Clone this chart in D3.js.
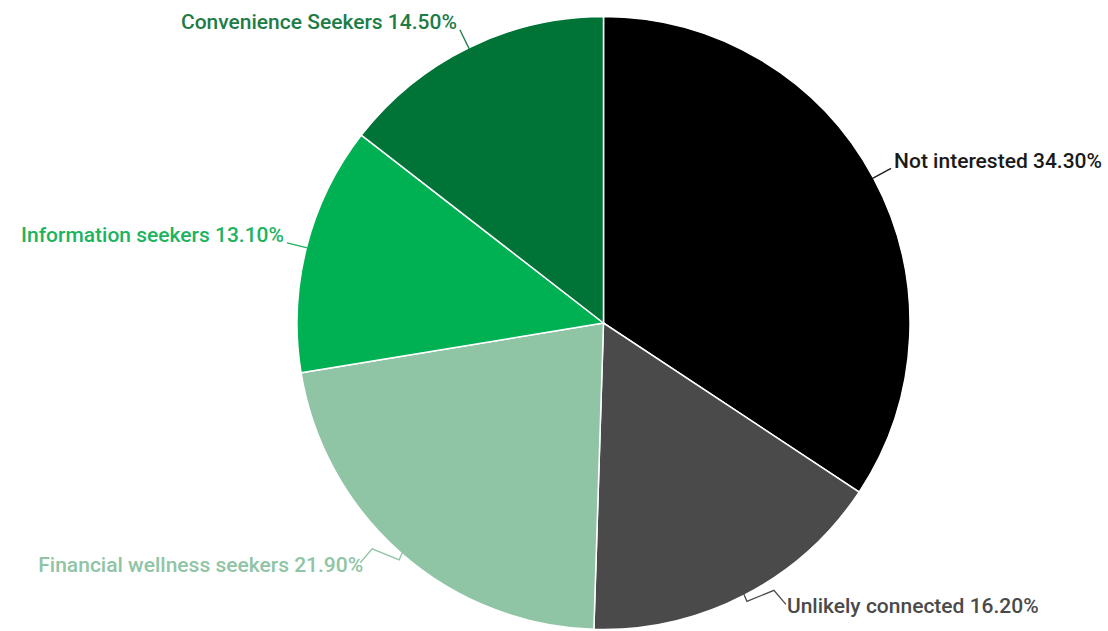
<!DOCTYPE html>
<html>
<head>
<meta charset="utf-8">
<script src="https://cdn.jsdelivr.net/npm/d3@7"></script>
<style>
  html, body { margin: 0; padding: 0; background: #fff; }
  svg { display: block; }
  text { font-family: Roboto, "Noto Sans", sans-serif; font-weight: 500; font-size: 21px; }
</style>
</head>
<body>
<svg id="chart" width="1108" height="631"></svg>
<script>
// Audience segments, clockwise from 12 o'clock
const segments = ["Not interested", "Unlikely connected", "Financial wellness seekers", "Information seekers", "Convenience Seekers"];
const shares = [34.3, 16.2, 21.9, 13.1, 14.5];
const sliceColors = ["#000000", "#4a4a4a", "#8fc4a5", "#00b154", "#007437"];
const labelColors = ["#1a1a1a", "#4a4a4a", "#8fc4a5", "#1db35f", "#1d7c47"];

const width = 1108, height = 631;
const cx = 603.5, cy = 323, radius = 306.5;

const svg = d3.select("#chart");
const g = svg.append("g").attr("transform", `translate(${cx},${cy})`);

const data = segments.map((name, i) => ({ name, value: shares[i], color: sliceColors[i], labelColor: labelColors[i] }));

const pie = d3.pie().value(d => d.value).sort(null);
const arcs = pie(data);
const arc = d3.arc().innerRadius(0).outerRadius(radius);

g.selectAll("path.slice")
  .data(arcs)
  .join("path")
  .attr("class", "slice")
  .attr("d", arc)
  .attr("fill", d => d.data.color)
  .attr("stroke", "#ffffff")
  .attr("stroke-width", 1.5);

// polar helper: angle measured clockwise from 12 o'clock
const polar = (r, a) => [r * Math.sin(a), -r * Math.cos(a)];

arcs.forEach(d => {
  const mid = (d.startAngle + d.endAngle) / 2;
  const right = Math.sin(mid) >= 0;
  const dir = right ? 1 : -1;
  const lower = -Math.cos(mid) > 0.6;
  const p0 = polar(radius - 1, mid);
  let pts, anchor;
  if (lower) {
    // zig-zag leader for the labels under the pie
    const p1 = [p0[0] + dir * 3, p0[1] + 7];
    const p2 = [p1[0] + dir * 27, p1[1] - 11];
    const p3 = [p2[0] + dir * 12, p2[1] + 14];
    pts = [p0, p1, p2, p3];
    anchor = [p3[0] + (right ? 1 : 3), p3[1] + 9];
  } else {
    const p1 = polar(radius + 20, mid);
    pts = [p0, p1];
    anchor = [p1[0] + dir * 3, p1[1] - 0.5];
  }
  g.append("path")
    .attr("d", d3.line()(pts))
    .attr("fill", "none")
    .attr("stroke", d.data.color === "#000000" ? "#1a1a1a" : d.data.labelColor)
    .attr("stroke-width", 1.3);
  g.append("text")
    .attr("x", anchor[0])
    .attr("y", anchor[1])
    .attr("text-anchor", right ? "start" : "end")
    .attr("fill", d.data.labelColor)
    .text(`${d.data.name} ${d.data.value.toFixed(2)}%`);
});
</script>
</body>
</html>
